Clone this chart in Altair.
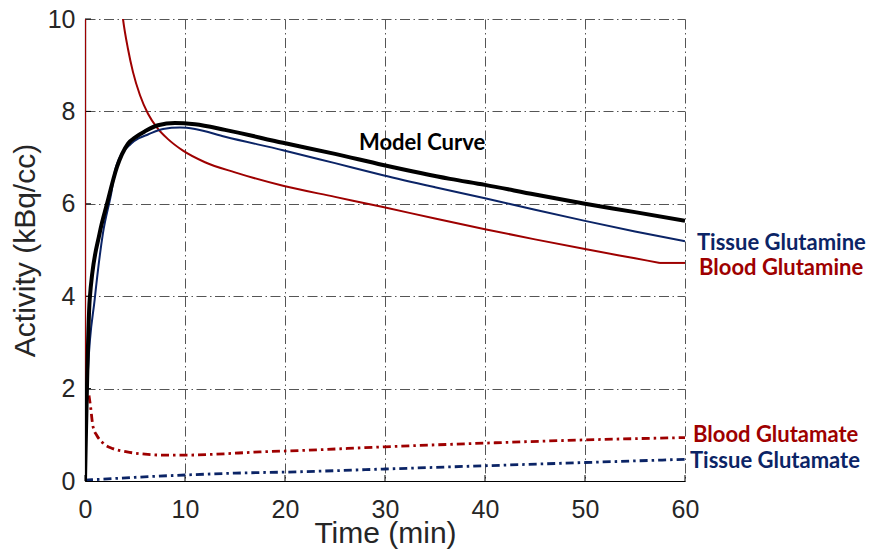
import altair as alt
import pandas as pd

RED = "#9E0000"
NAVY = "#0B2466"

# Model curve (black)
model_t = [0, 0.47, 1.47, 2.2, 3.2, 4.3, 5.1, 6.0, 7.3, 9, 11, 14, 19.8, 25, 29.8, 36.5, 40, 45, 50, 55, 60]
model_v = [0, 3.93, 5.37, 6.0, 6.8, 7.3, 7.45, 7.57, 7.7, 7.75, 7.72, 7.6, 7.32, 7.08, 6.84, 6.54, 6.41, 6.2, 6.0, 5.82, 5.63]

# Tissue glutamine (navy, solid)
tgln_t = [0, 0.3, 0.97, 1.8, 2.6, 3.1, 4.6, 5.4, 6.3, 7.8, 9.5, 11, 14, 19.8, 25, 29.8, 35, 40, 45, 50, 55, 60]
tgln_v = [0, 2.4, 3.93, 5.37, 6.2, 6.8, 7.3, 7.42, 7.5, 7.62, 7.65, 7.62, 7.45, 7.16, 6.88, 6.62, 6.36, 6.12, 5.87, 5.63, 5.4, 5.19]

# Blood glutamine (red, solid) - spike at t=0 runs off the top of the plot
bgln_t = [0, 0.08, 0.5, 1.5, 2.5, 3.2, 3.8, 4.3, 4.8, 5.5, 6.3, 7.2, 8.3, 9.8, 12, 15, 19.8, 25, 29.8, 35, 40, 45, 50, 55, 57.5]
bgln_v = [0, 40, 35, 20, 13.5, 11.3, 10, 9.35, 8.85, 8.35, 7.95, 7.65, 7.4, 7.15, 6.9, 6.68, 6.39, 6.15, 5.93, 5.68, 5.45, 5.23, 5.02, 4.82, 4.72]
# Blood glutamine plateau at the end
bgln_end_t = [57.5, 60]
bgln_end_v = [4.72, 4.72]

# Blood glutamate (red, dash-dot)
bglu_t = [0.4, 0.55, 0.8, 1.2, 1.8, 2.8, 4.2, 6, 7.8, 10, 13, 17.5, 21.5, 30, 40, 50, 60]
bglu_v = [1.85, 1.62, 1.18, 0.98, 0.82, 0.7, 0.63, 0.58, 0.56, 0.56, 0.58, 0.63, 0.66, 0.74, 0.82, 0.89, 0.94]

# Tissue glutamate (navy, dash-dot)
tglu_t = [0, 1, 5, 10, 15, 21.5, 30, 40, 50, 60]
tglu_v = [0.02, 0.03, 0.08, 0.13, 0.17, 0.2, 0.26, 0.33, 0.40, 0.47]

# Annotations
lab_text = ["Model Curve", "Tissue Glutamine", "Blood Glutamine", "Blood Glutamate", "Tissue Glutamate"]
lab_t = [27.4, 61.2, 61.4, 60.8, 60.5]
lab_v = [7.16, 5.0, 4.46, 0.84, 0.28]
lab_c = ["black", NAVY, RED, RED, NAVY]

x_ticks = [0, 10, 20, 30, 40, 50, 60]
y_ticks = [0, 2, 4, 6, 8, 10]

W, H = 600, 462
FONT = "Liberation Sans"
TXT = "#262626"

xs = alt.Scale(domain=[0, 60], nice=False, zero=False)
ys = alt.Scale(domain=[0, 10], nice=False)

x_axis = alt.Axis(values=x_ticks, grid=True, tickSize=0, labelFlush=False,
                  domainColor="black", domainWidth=1.2,
                  labelFont=FONT, labelFontSize=25, labelColor=TXT,
                  labelBaseline="alphabetic", labelPadding=36,
                  titleFont=FONT, titleFontSize=30, titleFontWeight="normal",
                  titleColor=TXT, titleX=W / 2, titleY=61,
                  titleBaseline="alphabetic", titleAlign="center")
y_axis = alt.Axis(values=y_ticks, grid=True, tickSize=0, labelFlush=False,
                  domainColor="black", domainWidth=1.2,
                  labelFont=FONT, labelFontSize=25, labelColor=TXT,
                  labelPadding=10, labelBaseline="middle", labelAlign="right",
                  titleFont=FONT, titleFontSize=30, titleFontWeight="normal",
                  titleColor=TXT, titleX=-60, titleY=H / 2,
                  titleAngle=270, titleBaseline="middle", titleAlign="center")

X = alt.X("t:Q", scale=xs, axis=x_axis, title="Time (min)")
Y = alt.Y("v:Q", scale=ys, axis=y_axis, title="Activity (kBq/cc)")

DASH = [8, 4, 2.5, 4]


def line(t, v, color, width, dash=None, interp="monotone"):
    kw = dict(color=color, strokeWidth=width, interpolate=interp, clip=True)
    if dash:
        kw["strokeDash"] = dash
    return alt.Chart(pd.DataFrame({"t": t, "v": v})).mark_line(**kw).encode(x=X, y=Y)


tick_x = alt.Chart(pd.DataFrame({"t": x_ticks})).mark_rule(color="black", strokeWidth=1).encode(
    x=X, y=alt.value(H), y2=alt.value(H - 6))
tick_y = alt.Chart(pd.DataFrame({"v": y_ticks})).mark_rule(color="black", strokeWidth=1).encode(
    y=Y, x=alt.value(0), x2=alt.value(6))

labels = alt.Chart(pd.DataFrame({"t": lab_t, "v": lab_v, "label": lab_text, "c": lab_c})).mark_text(
    align="left", baseline="alphabetic", font="Lato", fontWeight="bold", fontSize=22, clip=False
).encode(x=X, y=Y, text="label:N", color=alt.Color("c:N", scale=None))

chart = alt.layer(
    tick_x, tick_y,
    line(tglu_t, tglu_v, NAVY, 2.8, DASH),
    line(bglu_t, bglu_v, RED, 2.8, DASH),
    line(bgln_t, bgln_v, RED, 2),
    line(bgln_end_t, bgln_end_v, RED, 2, interp="linear"),
    line(tgln_t, tgln_v, NAVY, 2),
    line(model_t, model_v, "black", 4),
    labels,
).properties(
    width=W, height=H,
    autosize=alt.AutoSizeParams(type="none"),
    padding={"left": 77, "top": 11, "right": 184, "bottom": 68},
).configure_view(stroke=None).configure_axis(
    gridColor="#555555", gridDash=[10, 3.5, 1.5, 3.5], gridWidth=1, gridOpacity=1
)

chart.save("out.html", embed_options={"renderer": "svg", "actions": False})
